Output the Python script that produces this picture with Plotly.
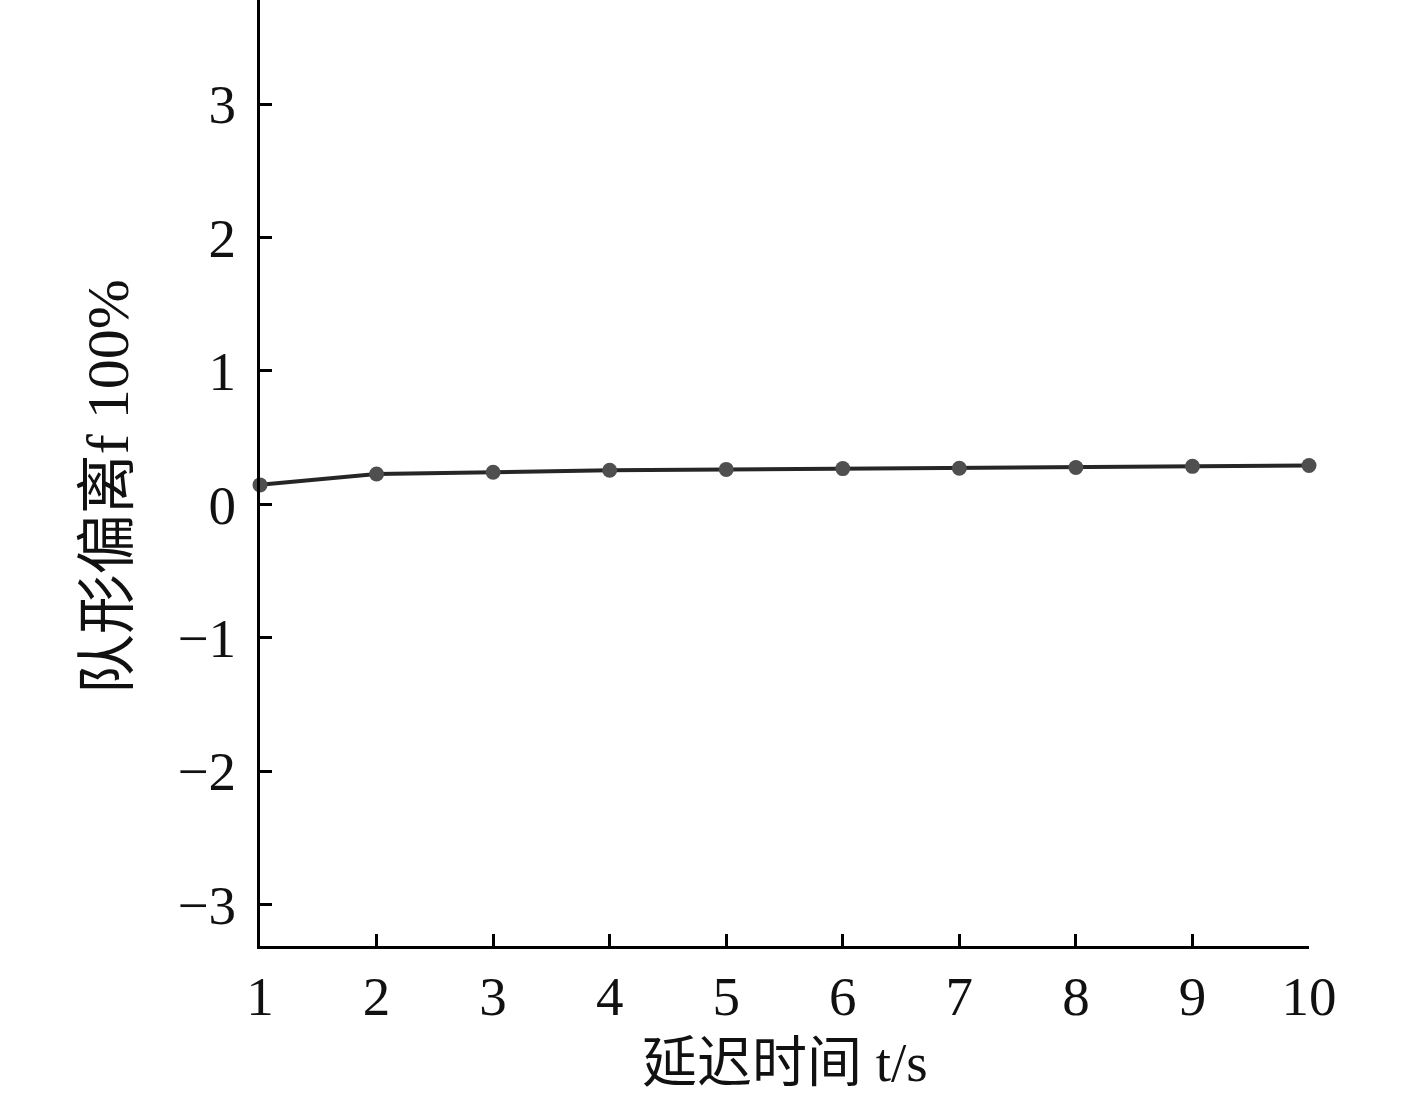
import plotly.graph_objects as go

delay_t = [1, 2, 3, 4, 5, 6, 7, 8, 9, 10]
deviation = [0.146, 0.228, 0.241, 0.256, 0.262, 0.268, 0.271, 0.276, 0.285, 0.291]
y_ticks = [-3, -2, -1, 0, 1, 2, 3]
x_title = "延迟时间 t/s"
y_title = "队形偏离f 100%"

FONT = "Liberation Serif, Times New Roman, Noto Sans CJK SC, serif"

fig = go.Figure()
fig.add_trace(go.Scatter(
    x=delay_t, y=deviation, mode="lines+markers",
    line=dict(color="#262626", width=4),
    marker=dict(symbol="circle", size=15, color="#4f4f4f"),
    cliponaxis=False, showlegend=False,
))

fig.update_layout(
    width=1417, height=1093,
    margin=dict(l=260, r=108, t=0, b=147),
    paper_bgcolor="white", plot_bgcolor="white",
    font=dict(family=FONT, size=56, color="#111"),
    xaxis=dict(
        range=[1, 10], tickvals=delay_t, showgrid=False, zeroline=False,
        showline=True, linecolor="black", linewidth=3,
        ticks="inside", ticklen=12, tickwidth=3, tickcolor="black",
        tickfont=dict(family=FONT, size=55, color="#111"),
        ticklabelstandoff=0,
    ),
    yaxis=dict(
        range=[-3.31, 3.78], tickvals=y_ticks, showgrid=False, zeroline=False,
        showline=True, linecolor="black", linewidth=3,
        ticks="inside", ticklen=12, tickwidth=3, tickcolor="black",
        tickfont=dict(family=FONT, size=55, color="#111"),
        ticklabelstandoff=10,
    ),
    annotations=[
        dict(text=x_title, xref="paper", yref="paper", x=0.5005, y=-0.123,
             xanchor="center", yanchor="middle", showarrow=False,
             font=dict(family=FONT, size=55, color="#111")),
        dict(text=y_title, xref="paper", yref="paper", x=-0.145, y=0.486,
             xanchor="center", yanchor="middle", showarrow=False, textangle=-90,
             font=dict(family=FONT, size=60, color="#111")),
    ],
)

fig.write_html("out.html", config={"displayModeBar": False},
               post_script="document.body.style.margin='0';document.body.style.padding='0';document.body.style.overflow='hidden';")
